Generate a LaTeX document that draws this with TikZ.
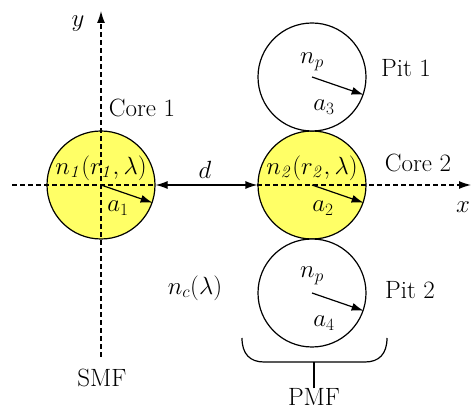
\documentclass[tikz,border=0pt]{standalone}
\usetikzlibrary{arrows.meta,positioning}

\definecolor{coreyellow}{RGB}{255,255,102}

\begin{document}
\begin{tikzpicture}[
    x=1pt, y=-1pt,
    font=\fontsize{25}{30}\selectfont,
    core/.style={circle, draw, line width=1.2pt, fill=coreyellow, minimum size=108pt, inner sep=0pt},
    pit/.style={circle, draw, line width=1.2pt, fill=white, minimum size=108pt, inner sep=0pt},
    axis/.style={line width=1.2pt, dash pattern=on 5pt off 3pt},
    arrow/.style={-{Latex[length=12pt,width=8pt]}, line width=1.2pt},
    label/.style={inner sep=0pt}
]
\useasboundingbox (0,0) rectangle (471,411);

% --- Fibres ---
\node[core] (core1) at (101,185) {};
\node[core] (core2) at (312,185) {};
\node[pit]  (pit1)  at (312,77) {};
\node[pit]  (pit2)  at (312,293) {};

% --- Axes ---
\coordinate (xstart) at (12,185);
\coordinate (xend)   at (471,185);
\coordinate (ystart) at (101,357);
\coordinate (yend)   at (101,11);
\draw[axis] (xstart) -- (core1.east);
\draw[axis, arrow] (core2.west) -- (xend);
\draw[axis, arrow] (ystart) -- (yend);
\draw[{Latex[length=12pt,width=8pt]}-{Latex[length=12pt,width=8pt]}, line width=1.2pt] (core1.east) -- (core2.west);

% --- Radii ---
\draw[arrow] (core1.center) -- (core1.-19);
\draw[arrow] (core2.center) -- (core2.-19);
\draw[arrow] (pit1.center) -- (pit1.-19);
\draw[arrow] (pit2.center) -- (pit2.-19);

% --- Labels ---
\node[label] (n1) at (101,168) {$n_{\mathit{1}}(r_{\mathit{1}},\lambda)$};
\node[label] (n2) at (312,168) {$n_{\mathit{2}}(r_{\mathit{2}},\lambda)$};
\node[label] (a1) at (118,208) {$a_1$};
\node[label] (a2) at (323,208) {$a_2$};
\node[label] (a3) at (324,107) {$a_3$};
\node[label] (a4) at (324,323) {$a_4$};
\node[label] (np1) at (312,62) {$n_p$};
\node[label] (np2) at (312,276) {$n_p$};
\node[label] (nc) at (195,288) {$n_c(\lambda)$};
\node[label] (dlab) at (205,170) {$d$};
\node[label] (xlab) at (463,207) {$x$};
\node[label] (ylab) at (78,24) {$y$};

\node[label] (core1lab) at (142,108) {Core 1};
\node[label] (core2lab) at (418,163) {Core 2};
\node[label] (pit1lab) at (406,68) {Pit 1};
\node[label] (pit2lab) at (410,290) {Pit 2};
\node[label] (smf) at (102,378) {SMF};
\node[label] (pmf) at (314,397) {PMF};

% --- Brace under PMF ---
\draw[line width=1.2pt] (242,338) .. controls (242,354) and (250,362) .. (264,362)
    -- (365,362) .. controls (379,362) and (387,354) .. (387,338);
\draw[line width=1.2pt] (pmf.north) -- (pmf.north |- 0,362);

\end{tikzpicture}
\end{document}
